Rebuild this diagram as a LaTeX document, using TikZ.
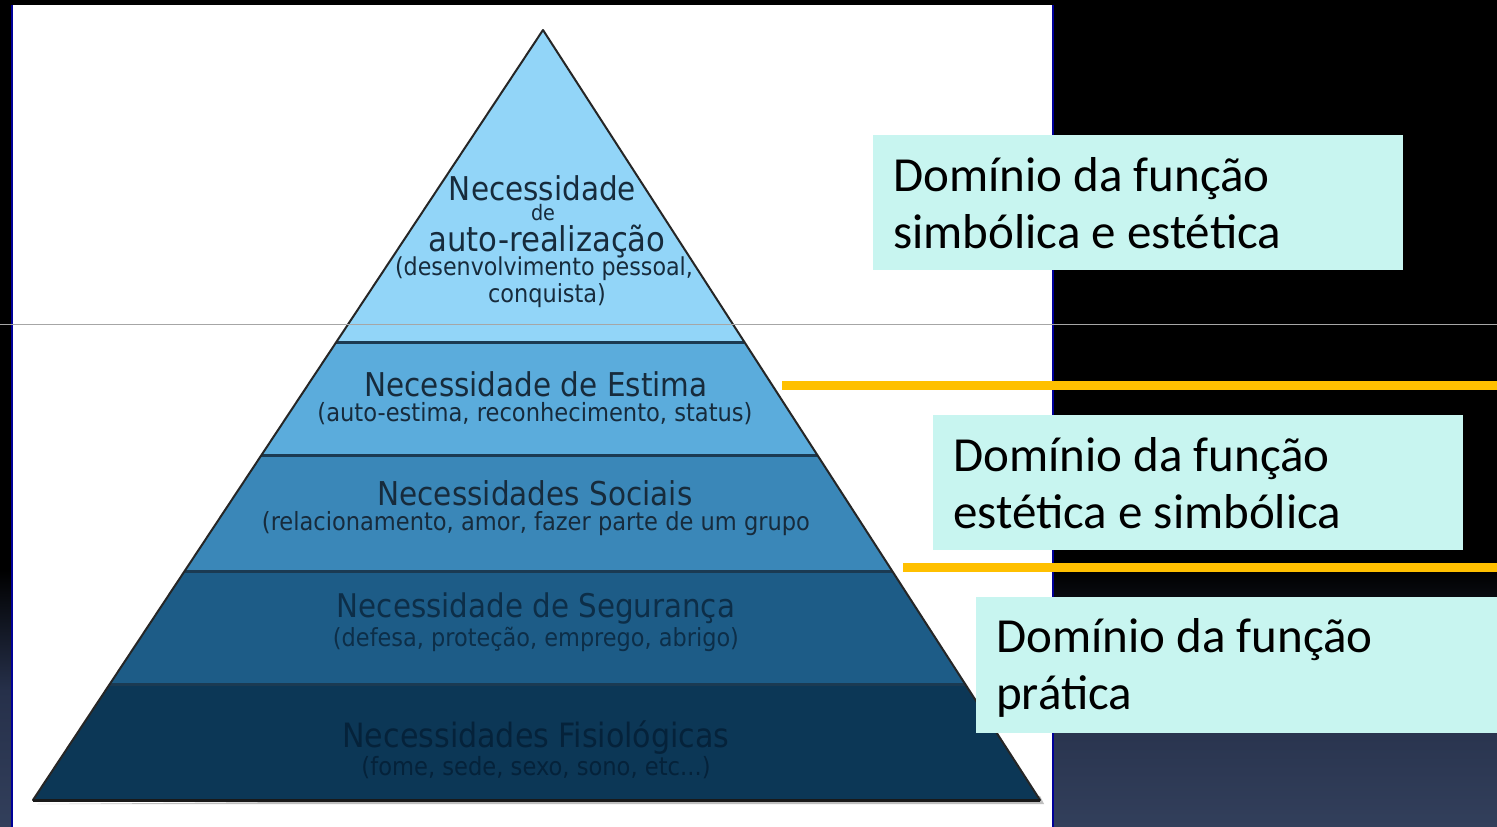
\documentclass[tikz,border=0pt]{standalone}
\usepackage{fontspec}
\usepackage{graphicx}
\setmainfont{Carlito}
\newfontfamily\pyrfont{DejaVu Sans Condensed}
\usetikzlibrary{calc}
\definecolor{layA}{HTML}{92D5F8}
\definecolor{layB}{HTML}{5BACDC}
\definecolor{layC}{HTML}{3A87B8}
\definecolor{layD}{HTML}{1D5C87}
\definecolor{layE}{HTML}{0C3756}
\definecolor{bgmid}{HTML}{26304A}
\definecolor{bgbot}{HTML}{323F5B}
\definecolor{boxfill}{HTML}{C8F5F0}
\definecolor{gold}{HTML}{FFC000}
\definecolor{txtA}{HTML}{172B3C}
\definecolor{txtD}{HTML}{0D2E48}
\definecolor{txtE}{HTML}{05223A}
\definecolor{sepcol}{HTML}{1B3A52}
\newcommand\pyrtxt[2]{\resizebox{#1pt}{!}{\pyrfont #2}}
\tikzset{
  ptext/.style={inner sep=0pt, anchor=center},
  dombox/.style={fill=boxfill, draw=none, anchor=north west},
  domtext/.style={anchor=base west, inner sep=0pt, align=left, font=\fontsize{49}{57}\selectfont, text=black},
  goldline/.style={draw=gold, line width=9pt},
  sepline/.style={draw=sepcol, line width=3pt},
}
\begin{document}
\begin{tikzpicture}[x=1pt,y=-1pt]
\useasboundingbox (0,0) rectangle (1497,827);
% background
\fill[black] (0,0) rectangle (1497,827);
\shade[top color=black, bottom color=bgmid] (0,570) rectangle (1497,690.5);
\shade[top color=bgmid, bottom color=bgbot] (0,690) rectangle (1497,827);
% white panel
\fill[white] (12,5) rectangle (1053,827);
\draw[blue!60!black, line width=1.5pt] (12,5) -- (12,827);
\draw[blue!60!black, line width=1.5pt] (1053,5) -- (1053,827);
% pyramid
\coordinate (A) at (543,30);
\coordinate (BL) at (33,800);
\coordinate (BR) at (1040,800);
\coordinate (L1) at ($(A)!0.4052!(BL)$);
\coordinate (R1) at ($(A)!0.4052!(BR)$);
\coordinate (L2) at ($(A)!0.5532!(BL)$);
\coordinate (R2) at ($(A)!0.5532!(BR)$);
\coordinate (L3) at ($(A)!0.7026!(BL)$);
\coordinate (R3) at ($(A)!0.7026!(BR)$);
\coordinate (L4) at ($(A)!0.8506!(BL)$);
\coordinate (R4) at ($(A)!0.8506!(BR)$);
\fill[black!25] ($(BL)+(4,4)$) -- ($(BR)+(4,4)$) -- ($(BR)+(0,-4)$) -- cycle;
\fill[layA] (A) -- (R1) -- (L1) -- cycle;
\fill[layB] (L1) -- (R1) -- (R2) -- (L2) -- cycle;
\fill[layC] (L2) -- (R2) -- (R3) -- (L3) -- cycle;
\fill[layD] (L3) -- (R3) -- (R4) -- (L4) -- cycle;
\fill[layE] (L4) -- (R4) -- (BR) -- (BL) -- cycle;
\draw[sepline] (L1) -- (R1);
\draw[sepline] (L2) -- (R2);
\draw[sepline] (L3) -- (R3);
\draw[sepline] (L4) -- (R4);
\draw[black!85, line width=2pt, line join=round] (A) -- (BR) -- (BL) -- cycle;
\draw[black!90, line width=3pt] (BL) -- (BR);
% pyramid texts
\node[ptext, text=txtA] (t1a) at (542.5,188) {\pyrtxt{187}{Necessidade}};
\node[ptext, text=txtA] (t1b) at (543,212.5) {\pyrtxt{24}{de}};
\node[ptext, text=txtA] (t1c) at (547,242) {\pyrtxt{237}{auto-realização}};
\node[ptext, text=txtA] (t1d) at (544,269) {\pyrtxt{298}{(desenvolvimento pessoal,}};
\node[ptext, text=txtA] (t1e) at (547,296) {\pyrtxt{118}{conquista)}};
\node[ptext, text=txtA] (t2a) at (536,384) {\pyrtxt{343}{Necessidade de Estima}};
\node[ptext, text=txtA] (t2b) at (535,414) {\pyrtxt{435}{(auto-estima, reconhecimento, status)}};
\node[ptext, text=txtA] (t3a) at (535,493) {\pyrtxt{315}{Necessidades Sociais}};
\node[ptext, text=txtA] (t3b) at (536,524) {\pyrtxt{548}{(relacionamento, amor, fazer parte de um grupo}};
\node[ptext, text=txtD] (t4a) at (536,609) {\pyrtxt{398}{Necessidade de Segurança}};
\node[ptext, text=txtD] (t4b) at (536,639) {\pyrtxt{406}{(defesa, proteção, emprego, abrigo)}};
\node[ptext, text=txtE] (t5a) at (536,738) {\pyrtxt{387}{Necessidades Fisiológicas}};
\node[ptext, text=txtE] (t5b) at (536,768) {\pyrtxt{349}{(fome, sede, sexo, sono, etc...)}};
% thin gray rule
\draw[gray!70, line width=1pt] (0,324) -- (1497,324);
% gold lines
\draw[goldline] (782,385) -- (1497,385);
\draw[goldline] (903,567) -- (1497,567);
% boxes
\node[dombox, minimum width=530pt, minimum height=135pt] (b1) at (873,135) {};
\node[domtext] (d1) at (893,248) {Domínio da função\\simbólica e estética};
\node[dombox, minimum width=530pt, minimum height=135pt] (b2) at (933,415) {};
\node[domtext] (d2) at (953,528) {Domínio da função\\estética e simbólica};
\node[dombox, minimum width=521pt, minimum height=136pt] (b3) at (976,597) {};
\node[domtext] (d3) at (996,709) {Domínio da função\\prática};
\end{tikzpicture}
\end{document}
